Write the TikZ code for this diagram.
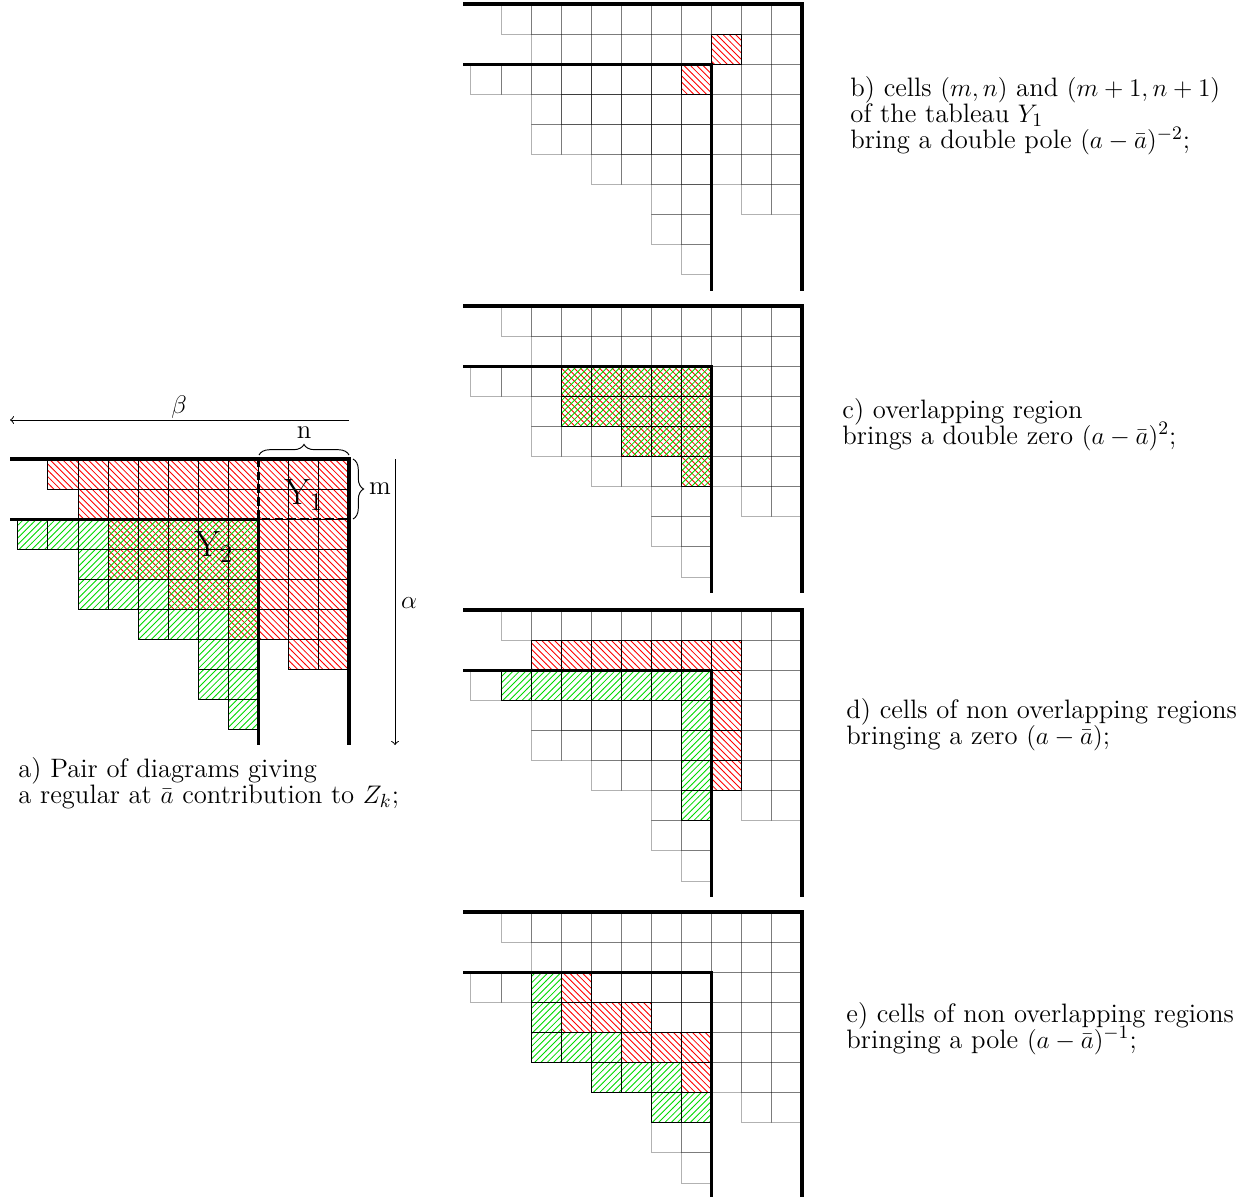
\documentclass[tikz,border=0pt]{standalone}
\usetikzlibrary{patterns,decorations.pathreplacing}
\begin{document}
\begin{tikzpicture}[x=0.4726pt,y=-0.4726pt,
  thickln/.style={line width=1.6pt},
  gridc/.style={draw=black,draw opacity=0.3,line width=0.4pt},
  rcell/.style={pattern=north west lines,pattern color=red,draw=black,line width=0.45pt},
  gcell/.style={pattern=north east lines,pattern color=green!85!black,draw=black,line width=0.45pt},
  xcell/.style={pattern=north west lines,pattern color=red},
  lbl/.style={anchor=base west,inner sep=0pt,font=\fontsize{12.6}{15}\selectfont},
  ylbl/.style={inner sep=0pt,font=\fontsize{18.1}{22}\selectfont},
  cellunits/.style={x={(-0.5cm,0pt)},y={(0pt,-0.5cm)}}]
\useasboundingbox (0,0) rectangle (1257,1197);

% ---------------- panel a ----------------
\begin{scope}[shift={(349,459)},cellunits]
  \foreach \r/\L in {0/10,1/9,2/8,3/8,4/6,5/4,6/2}
    \foreach \c in {1,...,\L}
      \path[pattern=north west lines,pattern color=red] (\c-1,\r) rectangle (\c,\r+1);
  \foreach \r/\L in {0/8,1/6,2/6,3/4,4/2,5/2,6/1}
    \foreach \c in {1,...,\L}
      \path[pattern=north east lines,pattern color=green!85!black] (\c+2,\r+2) rectangle (\c+3,\r+3);
  \foreach \r/\L in {0/10,1/9,2/8,3/8,4/6,5/4,6/2}
    \foreach \c in {1,...,\L}
      \draw[line width=0.45pt] (\c-1,\r) rectangle (\c,\r+1);
  \foreach \r/\L in {0/8,1/6,2/6,3/4,4/2,5/2,6/1}
    \foreach \c in {1,...,\L}
      \draw[line width=0.45pt] (\c+2,\r+2) rectangle (\c+3,\r+3);
  \draw[thickln] (11.26,0) -- (0,0) -- (0,9.5);
  \draw[thickln] (11.26,2) -- (3,2) -- (3,9.5);
  \draw[line width=1.2pt,dash pattern=on 4pt off 2pt] (3,0) -- (3,2) -- (0,2);
\end{scope}
\node[ylbl] (y1) at (304,495) {$\mathrm{Y}_1$};
\node[ylbl] (y2) at (214,547) {$\mathrm{Y}_2$};

\coordinate (bs) at (349,420);
\coordinate (be) at (10,420);
\draw[->,line width=0.45pt] (bs) -- (be);
\node[inner sep=0pt,font=\fontsize{12.6}{15}\selectfont] (beta) at (179,407) {$\beta$};
\coordinate (as) at (395,459);
\coordinate (ae) at (395,745);
\draw[->,line width=0.45pt] (as) -- (ae);
\node[inner sep=0pt,font=\fontsize{12.6}{15}\selectfont] (alpha) at (409,603) {$\alpha$};

\coordinate (nb1) at (259,455);
\coordinate (nb2) at (349,455);
\draw[line width=0.45pt,decorate,decoration={brace,amplitude=5pt}] (nb1) -- (nb2);
\node[inner sep=0pt,font=\fontsize{12.6}{15}\selectfont] (nlab) at (304,433) {n};
\coordinate (mb1) at (353,459);
\coordinate (mb2) at (353,519);
\draw[line width=0.45pt,decorate,decoration={brace,amplitude=5pt}] (mb1) -- (mb2);
\node[inner sep=0pt,font=\fontsize{12.6}{15}\selectfont] (mlab) at (380,489) {m};

\node[lbl] (ta1) at (18,777) {a) Pair of diagrams giving};
\node[lbl] (ta2) at (18,803) {a regular at $\bar a$ contribution to $Z_k$;};

% ---------------- panels b-e: grey grids ----------------
\foreach \py in {4,306,610,912}{
  \begin{scope}[shift={(802,\py)},cellunits]
    \foreach \r/\L in {0/10,1/9,2/8,3/8,4/6,5/4,6/2}
      \foreach \c in {1,...,\L}
        \draw[gridc] (\c-1,\r) rectangle (\c,\r+1);
    \foreach \r/\L in {0/8,1/6,2/6,3/4,4/2,5/2,6/1}
      \foreach \c in {1,...,\L}
        \draw[gridc] (\c+2,\r+2) rectangle (\c+3,\r+3);
  \end{scope}
}

% panel b
\begin{scope}[shift={(802,4)},cellunits]
  \foreach \r/\c in {1/2,2/3}
    \draw[rcell] (\c,\r) rectangle (\c+1,\r+1);
  \draw[thickln] (11.26,0) -- (0,0) -- (0,9.55);
  \draw[thickln] (11.26,2) -- (3,2) -- (3,9.55);
\end{scope}

% panel c
\begin{scope}[shift={(802,306)},cellunits]
  \foreach \r/\c in {2/3,2/4,2/5,2/6,2/7,3/3,3/4,3/5,3/6,3/7,4/3,4/4,4/5,5/3}{
    \path[pattern=north west lines,pattern color=red] (\c,\r) rectangle (\c+1,\r+1);
    \draw[gcell] (\c,\r) rectangle (\c+1,\r+1);
  }
  \draw[thickln] (11.26,0) -- (0,0) -- (0,9.55);
  \draw[thickln] (11.26,2) -- (3,2) -- (3,9.55);
\end{scope}

% panel d
\begin{scope}[shift={(802,610)},cellunits]
  \foreach \r/\c in {1/2,1/3,1/4,1/5,1/6,1/7,1/8,2/2,3/2,4/2,5/2}
    \draw[rcell] (\c,\r) rectangle (\c+1,\r+1);
  \foreach \r/\c in {2/3,2/4,2/5,2/6,2/7,2/8,2/9,3/3,4/3,5/3,6/3}
    \draw[gcell] (\c,\r) rectangle (\c+1,\r+1);
  \draw[thickln] (11.26,0) -- (0,0) -- (0,9.55);
  \draw[thickln] (11.26,2) -- (3,2) -- (3,9.55);
\end{scope}

% panel e
\begin{scope}[shift={(802,912)},cellunits]
  \foreach \r/\c in {2/7,3/7,3/6,3/5,4/5,4/4,4/3,5/3}
    \draw[rcell] (\c,\r) rectangle (\c+1,\r+1);
  \foreach \r/\c in {2/8,3/8,4/8,4/7,4/6,5/6,5/5,5/4,6/4,6/3}
    \draw[gcell] (\c,\r) rectangle (\c+1,\r+1);
  \draw[thickln] (11.26,0) -- (0,0) -- (0,9.55);
  \draw[thickln] (11.26,2) -- (3,2) -- (3,9.55);
\end{scope}

% texts
\node[lbl] (tb1) at (850,97) {b) cells $(m,n)$ and $(m+1,n+1)$};
\node[lbl] (tb2) at (850,123) {of the tableau $Y_1$};
\node[lbl] (tb3) at (850,149) {bring a double pole $(a-\bar a)^{-2}$;};
\node[lbl] (tc1) at (842,418) {c) overlapping region};
\node[lbl] (tc2) at (842,444) {brings a double zero $(a-\bar a)^2$;};
\node[lbl] (td1) at (846,718) {d) cells of non overlapping regions};
\node[lbl] (td2) at (846,744) {bringing a zero $(a-\bar a)$;};
\node[lbl] (te1) at (846,1022) {e) cells of non overlapping regions};
\node[lbl] (te2) at (846,1048) {bringing a pole $(a-\bar a)^{-1}$;};
\end{tikzpicture}
\end{document}
